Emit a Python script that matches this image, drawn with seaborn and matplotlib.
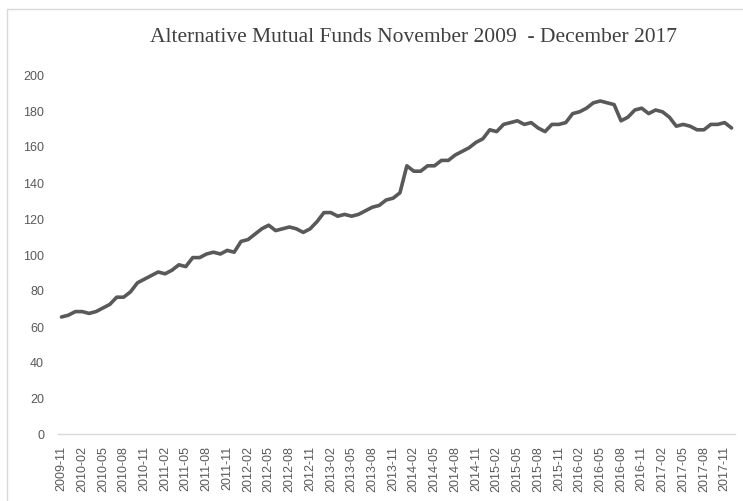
import seaborn as sns
import matplotlib.pyplot as plt
from matplotlib.patches import Rectangle
import numpy as np
import pandas as pd

sns.set_style("white")
plt.rcParams['font.family'] = ['Liberation Sans', 'DejaVu Sans']

# monthly values, 2009-11 .. 2017-12
months = pd.period_range("2009-11", "2017-12", freq="M").strftime("%Y-%m").tolist()
values = [
    65, 66, 68, 68, 67, 68, 70, 72, 76, 76, 79, 84,          # 2009-11 .. 2010-10
    86, 88, 90, 89, 91, 94, 93, 98, 98, 100, 101, 100,       # 2010-11 .. 2011-10
    102, 101, 107, 108, 111, 114, 116, 113, 114, 115, 114, 112,  # 2011-11 .. 2012-10
    114, 118, 123, 123, 121, 122, 121, 122, 124, 126, 127, 130,  # 2012-11 .. 2013-10
    131, 134, 149, 146, 146, 149, 149, 152, 152, 155, 157, 159,  # 2013-11 .. 2014-10
    162, 164, 169, 168, 172, 173, 174, 172, 173, 170, 168, 172,  # 2014-11 .. 2015-10
    172, 173, 178, 179, 181, 184, 185, 184, 183, 174, 176, 180,  # 2015-11 .. 2016-10
    181, 178, 180, 179, 176, 171, 172, 171, 169, 169, 172, 172,  # 2016-11 .. 2017-10
    173, 170,                                                  # 2017-11 .. 2017-12
]
y_ticks = list(range(0, 201, 20))
title = "Alternative Mutual Funds November 2009  - December 2017"

df = pd.DataFrame({"month": months, "value": values})
df["pos"] = np.arange(len(df))

fig = plt.figure(figsize=(7.43, 5.02), dpi=100)
ax = fig.add_axes([58 / 743, 1 - 435 / 502, 677 / 743, 360 / 502])

sns.lineplot(data=df, x="pos", y="value", ax=ax, color="#595959", linewidth=2.6)

ax.set_xlim(-0.5, len(df) - 0.5)
ax.set_ylim(0, 200)
ax.set_yticks(y_ticks)
ax.set_yticklabels([str(v) for v in y_ticks])
tick_pos = df["pos"][::3]
ax.set_xticks(tick_pos)
ax.set_xticklabels(df["month"][::3], rotation=90)
ax.tick_params(axis="both", length=0, labelsize=9, colors="#595959")
ax.tick_params(axis="y", pad=10)
ax.tick_params(axis="x", pad=8)
ax.set_xlabel("")
ax.set_ylabel("")

for side in ["top", "right", "left"]:
    ax.spines[side].set_visible(False)
ax.spines["bottom"].set_color("#d9d9d9")
ax.spines["bottom"].set_linewidth(1)
ax.grid(False)

fig.text(414 / 743, 1 - 37 / 502, title, ha="center", va="center",
         family=["Liberation Serif", "DejaVu Serif"], fontsize=15.5, color="#404040")

# chart-area border (only top and left edges fall inside the image)
fig.add_artist(Rectangle((7 / 743, -0.2), 1.5, 1.2 - 10 / 502, transform=fig.transFigure,
                         fill=False, edgecolor="#d9d9d9", linewidth=1))

fig.savefig("out.png", dpi=100)
plt.close(fig)
